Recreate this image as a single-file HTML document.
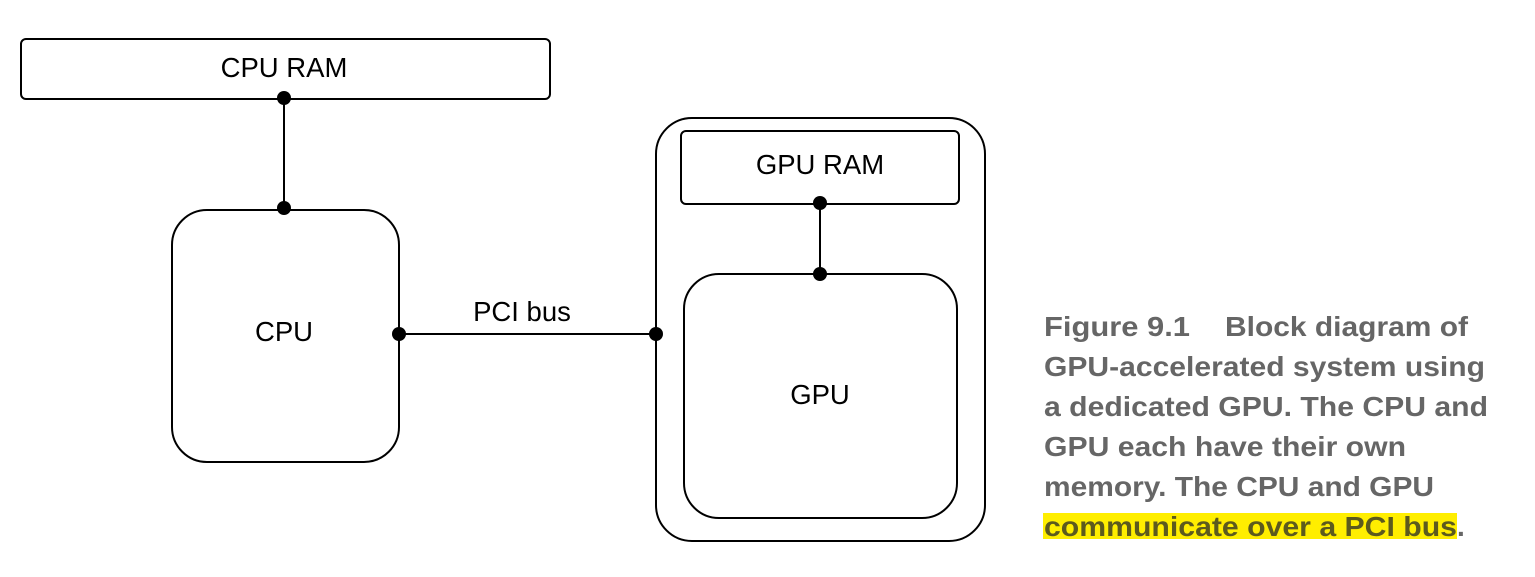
<!DOCTYPE html>
<html><head><meta charset="utf-8"><style>
html,body{margin:0;padding:0;background:#fff;}
svg{display:block;}
text{white-space:pre;}
</style></head><body>
<svg width="1535" height="577" viewBox="0 0 1535 577" xmlns="http://www.w3.org/2000/svg">
<g fill="none" stroke="#000" stroke-width="2">
<rect x="21" y="39" width="529" height="60" rx="5"/>
<rect x="172" y="210" width="227" height="252" rx="35"/>
<rect x="656" y="118" width="329" height="423" rx="36"/>
<rect x="681" y="131" width="278" height="73" rx="5"/>
<rect x="684" y="274" width="273" height="244" rx="35"/>
<line x1="284" y1="98" x2="284" y2="208"/>
<line x1="399" y1="334" x2="656" y2="334"/>
<line x1="820" y1="203" x2="820" y2="274"/>
</g>
<g fill="#000">
<circle cx="284" cy="98" r="7"/><circle cx="284" cy="208" r="7"/>
<circle cx="399" cy="334" r="7"/><circle cx="656" cy="334" r="7"/>
<circle cx="820" cy="203" r="7"/><circle cx="820" cy="274" r="7"/>
</g>
<g font-family="Liberation Sans, Arial, sans-serif" font-size="27.5" fill="#000" text-anchor="middle">
<text x="284" y="77">CPU RAM</text>
<text x="284" y="341">CPU</text>
<text x="522" y="321">PCI bus</text>
<text x="820" y="174">GPU RAM</text>
<text x="820" y="404">GPU</text>
</g>
<rect x="1043" y="513" width="414" height="26" fill="#ffee00"/>
<g font-family="Liberation Sans, Arial, sans-serif" font-size="28" font-weight="bold" fill="#666">
<text x="1044" y="336" textLength="146" lengthAdjust="spacingAndGlyphs">Figure 9.1</text>
<text x="1225" y="336" textLength="243" lengthAdjust="spacingAndGlyphs">Block diagram of</text>
<text x="1044" y="376" textLength="441" lengthAdjust="spacingAndGlyphs">GPU-accelerated system using</text>
<text x="1044" y="416" textLength="444" lengthAdjust="spacingAndGlyphs">a dedicated GPU. The CPU and</text>
<text x="1044" y="456" textLength="362" lengthAdjust="spacingAndGlyphs">GPU each have their own</text>
<text x="1044" y="496" textLength="390" lengthAdjust="spacingAndGlyphs">memory. The CPU and GPU</text>
<text x="1044" y="536" textLength="413" lengthAdjust="spacingAndGlyphs" fill="#5c5a1e">communicate over a PCI bus</text>
<text x="1457" y="536">.</text>
</g>
</svg>
</body></html>
